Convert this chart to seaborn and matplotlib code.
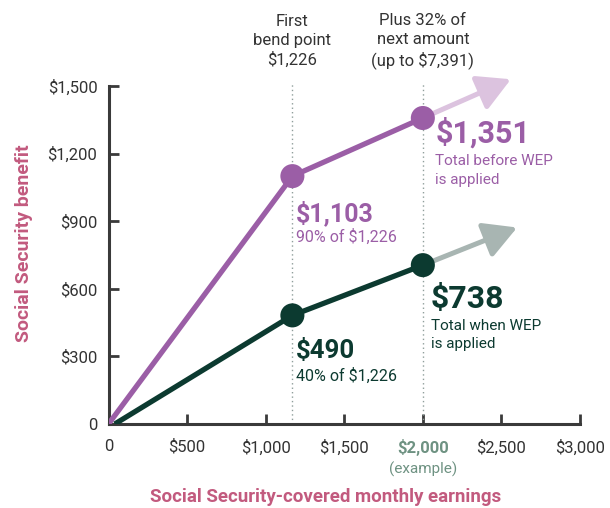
import matplotlib
matplotlib.use("Agg")
import matplotlib.pyplot as plt
import seaborn as sns
import pandas as pd

# data
earnings = [0, 1170, 2000]
before_wep = [0, 1100, 1358]
wep_earnings = [40, 1170, 2000]
after_wep = [0, 482, 705]
arrow_before = (2560, 1530)
arrow_after = (2600, 872)
bend_lines = [1170, 2000]

x_ticks = [0, 500, 1000, 1500, 2000, 2500, 3000]
x_labels = ["0", "$500", "$1,000", "$1,500", "$2,000", "$2,500", "$3,000"]
y_ticks = [0, 300, 600, 900, 1200, 1500]
y_labels = ["0", "$300", "$600", "$900", "$1,200", "$1,500"]

PURPLE = "#9b5ea6"
PURPLE_LIGHT = "#dcc3df"
DARK = "#0c3a30"
GRAY_ARROW = "#a8b5b2"
PINK = "#c25a7e"
EXAMPLE = "#6e9282"
TEXT = "#333333"
AXIS = "#3a3a3a"

sns.set_style("ticks")
plt.rcParams["font.family"] = ["Roboto", "DejaVu Sans"]

fig = plt.figure(figsize=(6.1, 5.08), dpi=100)
ax = fig.add_axes([108.5 / 610, 84 / 508, (580 - 108.5) / 610, (424 - 86) / 508])

df_before = pd.DataFrame({"x": earnings, "y": before_wep})
df_after = pd.DataFrame({"x": wep_earnings, "y": after_wep})

# dotted bend lines
for bx in bend_lines:
    ax.plot([bx, bx], [0, 1510], linestyle=(0, (1, 2.2)), color="#8f9e9b", lw=1,
            clip_on=False, zorder=1)

# arrows continuing the lines
ax.annotate("", xy=arrow_before, xytext=(earnings[-1], before_wep[-1]),
            arrowprops=dict(arrowstyle="-|>,head_length=1.0,head_width=0.55",
                            color=PURPLE_LIGHT, lw=3.6, mutation_scale=20,
                            shrinkA=0, shrinkB=0), annotation_clip=False, zorder=2)
ax.annotate("", xy=arrow_after, xytext=(earnings[-1], after_wep[-1]),
            arrowprops=dict(arrowstyle="-|>,head_length=1.0,head_width=0.55",
                            color=GRAY_ARROW, lw=3.6, mutation_scale=20,
                            shrinkA=0, shrinkB=0), annotation_clip=False, zorder=2)

sns.lineplot(data=df_before, x="x", y="y", color=PURPLE, lw=3.8, ax=ax, zorder=3,
             solid_capstyle="butt")
sns.lineplot(data=df_after, x="x", y="y", color=DARK, lw=3.8, ax=ax, zorder=3,
             solid_capstyle="butt")
sns.scatterplot(data=df_before.iloc[1:], x="x", y="y", color=PURPLE, s=300,
                edgecolor="none", ax=ax, zorder=4, clip_on=False)
sns.scatterplot(data=df_after.iloc[1:], x="x", y="y", color=DARK, s=300,
                edgecolor="none", ax=ax, zorder=4, clip_on=False)

ax.set_xlim(0, 3000)
ax.set_ylim(0, 1500)
ax.set_xticks(x_ticks)
ax.set_xticklabels(x_labels)
ax.set_yticks(y_ticks)
ax.set_yticklabels(y_labels)
sns.despine(ax=ax)
for s in ["left", "bottom"]:
    ax.spines[s].set_color(AXIS)
    ax.spines[s].set_linewidth(2.2)
ax.tick_params(axis="both", direction="in", length=7, width=2, color=AXIS,
               labelsize=12, labelcolor=TEXT)
ax.tick_params(axis="x", pad=11)
ax.tick_params(axis="y", pad=8)
lab = ax.get_xticklabels()[4]
lab.set_color(EXAMPLE)
lab.set_fontweight("bold")
ax.text(2000, -200, "(example)", ha="center", va="center", fontsize=11,
        color=EXAMPLE, clip_on=False)

ax.set_xlabel("Social Security-covered monthly earnings", fontsize=13.5,
              fontweight="bold", color=PINK)
ax.set_ylabel("Social Security benefit", fontsize=14, fontweight="bold",
              color=PINK)
ax.xaxis.set_label_coords(0.461, -0.188)
ax.yaxis.set_label_coords(-0.16, 0.535)

# header notes
ax.text(1170, 1700, "First\nbend point\n$1,226", ha="center", va="center",
        fontsize=12, color=TEXT, linespacing=1.33, clip_on=False)
ax.text(2000, 1700, "Plus 32% of\nnext amount\n(up to $7,391)", ha="center",
        va="center", fontsize=12, color=TEXT, linespacing=1.33, clip_on=False)

# value callouts
ax.text(2080, 1292, "$1,351", fontsize=22, fontweight="bold", color=PURPLE, va="center")
ax.text(2080, 1125, "Total before WEP\nis applied", fontsize=11, color=PURPLE,
        va="center", linespacing=1.4)
ax.text(1190, 935, "$1,103", fontsize=18, fontweight="bold", color=PURPLE, va="center")
ax.text(1190, 830, "90% of $1,226", fontsize=11.5, color=PURPLE, va="center")
ax.text(2050, 555, "$738", fontsize=23, fontweight="bold", color=DARK, va="center")
ax.text(2050, 395, "Total when WEP\nis applied", fontsize=11, color=DARK,
        va="center", linespacing=1.4)
ax.text(1190, 325, "$490", fontsize=18.5, fontweight="bold", color=DARK, va="center")
ax.text(1190, 213, "40% of $1,226", fontsize=11.5, color=DARK, va="center")

fig.savefig("out.png", dpi=100)
